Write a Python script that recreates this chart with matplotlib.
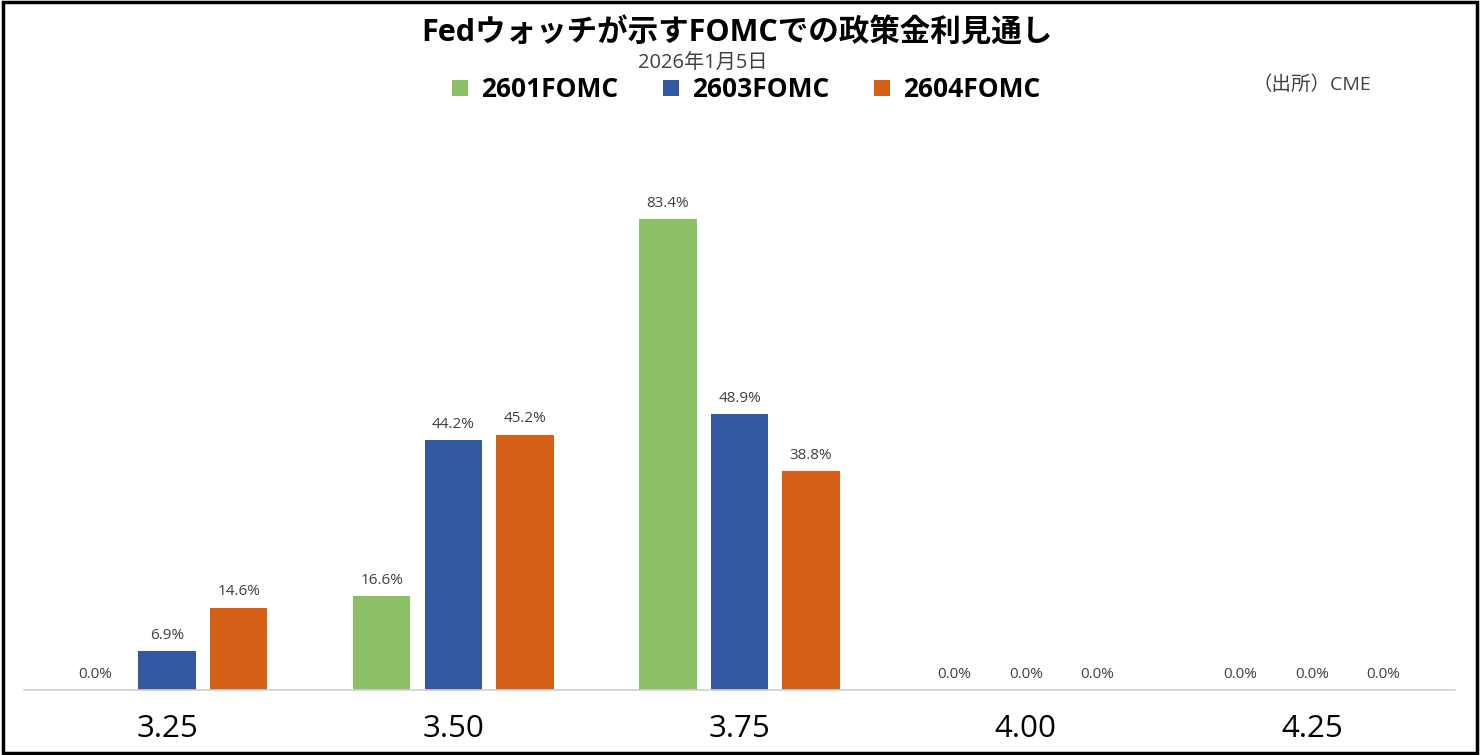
import matplotlib
matplotlib.use("Agg")
import matplotlib.pyplot as plt
import numpy as np
from matplotlib.patches import Rectangle

plt.rcParams['font.family'] = ['Open Sans', 'Noto Sans CJK JP', 'DejaVu Sans']

rates = ["3.25", "3.50", "3.75", "4.00", "4.25"]
series_names = ["2601FOMC", "2603FOMC", "2604FOMC"]
fomc_2601 = [0.0, 16.6, 83.4, 0.0, 0.0]
fomc_2603 = [6.9, 44.2, 48.9, 0.0, 0.0]
fomc_2604 = [14.6, 45.2, 38.8, 0.0, 0.0]
colors = ["#8CC066", "#3359A0", "#D36016"]

fig = plt.figure(figsize=(14.8, 7.55), dpi=100)
ax = fig.add_axes([0.0162, 0.0861, 0.967, 0.673])

x = np.arange(len(rates))
width = 0.2
offsets = [-0.25, 0.0, 0.25]
for vals, off, col, name in zip([fomc_2601, fomc_2603, fomc_2604], offsets, colors, series_names):
    bars = ax.bar(x + off, vals, width, color=col, label=name)
    for b, v in zip(bars, vals):
        ax.annotate(f"{v:.1f}%", (b.get_x() + b.get_width() / 2, v),
                    xytext=(0, 6), textcoords="offset points",
                    ha="center", va="bottom", fontsize=11, color="#404040")

ax.set_xlim(-0.5, len(rates) - 0.5)
ax.set_ylim(0, 90)
ax.set_yticks([])
ax.set_xticks(x)
ax.set_xticklabels(rates, fontsize=22.5)
ax.tick_params(axis="x", length=0, pad=17)
for s in ["top", "right", "left"]:
    ax.spines[s].set_visible(False)
ax.spines["bottom"].set_color("#D0D0D0")
ax.spines["bottom"].set_linewidth(1.2)

fig.text(0.498, 0.955, "Fedウォッチが示すFOMCでの政策金利見通し", ha="center", va="center",
         fontsize=22, fontweight="bold")
fig.text(0.475, 0.915, "2026年1月5日", ha="center", va="center", fontsize=14.5, color="#404040")
fig.text(0.8865, 0.888, "（出所）CME", ha="center", va="center", fontsize=14, color="#404040")

leg = fig.legend(loc="center", bbox_to_anchor=(0.504, 0.881), ncol=3, frameon=False,
                 prop={"size": 19, "weight": "bold"}, handlelength=0.6, handleheight=0.6,
                 columnspacing=1.7, handletextpad=0.5)

fig.patches.append(Rectangle((0.002, 0.003), 0.996, 0.994, transform=fig.transFigure,
                             fill=False, edgecolor="black", linewidth=2.5))

fig.savefig("out.png", dpi=100)
